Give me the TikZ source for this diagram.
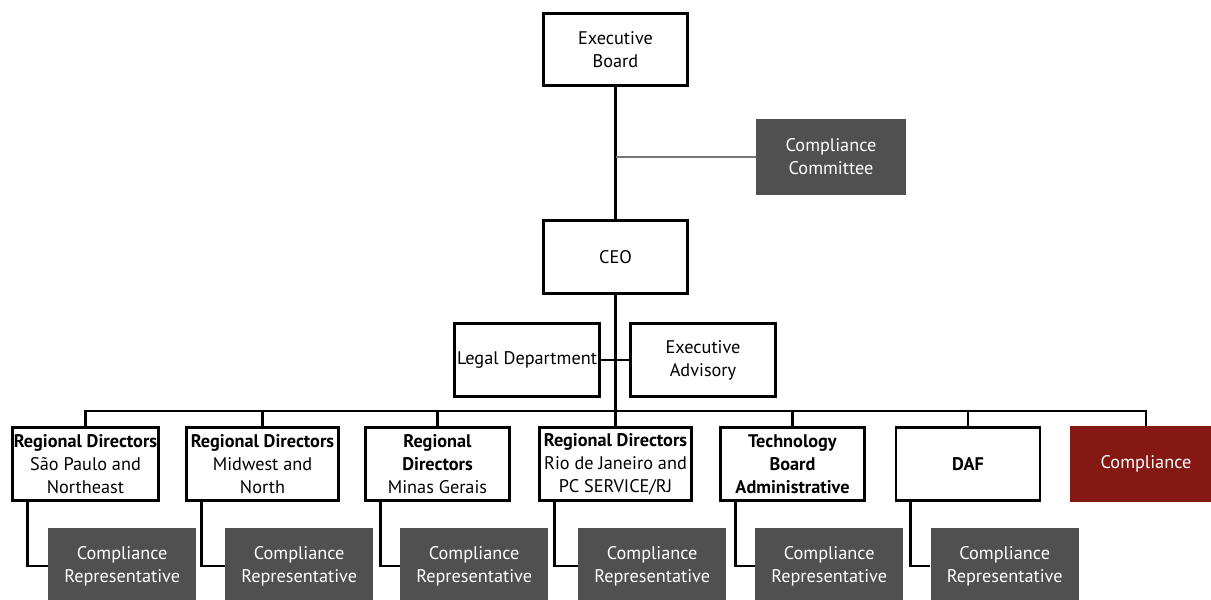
\documentclass[tikz,border=0pt]{standalone}
\usepackage{fontspec}
\setmainfont{PT Sans}
\usetikzlibrary{positioning}
\definecolor{repgray}{RGB}{80,80,80}
\definecolor{compred}{RGB}{134,24,19}
\definecolor{linkgray}{RGB}{120,120,120}

\tikzset{
  unitbox/.style={draw, line width=2.2pt, fill=white, align=center, inner sep=1pt,
    minimum height=54.5pt, font=\fontsize{13.7}{17.3}\selectfont},
  repbox/.style={fill=repgray, text=white, align=center, inner sep=1pt,
    minimum width=111pt, minimum height=57pt, font=\fontsize{13.7}{17.3}\selectfont},
  link/.style={line width=2.2pt}
}

\begin{document}
\begin{tikzpicture}[x=0.75pt, y=-0.75pt]
  \clip (0,0) rectangle (1211,600);
  \fill[white] (0,0) rectangle (1211,600);

  % top of the chart
  \node[unitbox, minimum width=108pt] (board) at (615.5,49.5) {Executive\\Board};
  \node[unitbox, minimum width=108pt] (ceo) at (615.5,257) {CEO};
  \node[repbox, minimum width=112pt] (committee) at (831,157) {Compliance\\Committee};
  \node[unitbox, minimum width=109pt] (legal) at (527,360) {Legal Department};
  \node[unitbox, minimum width=109pt] (advisory) at (703,360) {Executive\\Advisory};

  \draw[link] (board) -- (ceo);
  \draw[line width=1.6pt, linkgray] (committee.west) -- (committee.west -| board.south);
  \draw[link] (legal) -- (advisory);

  % directors
  \node[unitbox, minimum width=109.5pt] (r1) at (85.5,464) {\textbf{Regional Directors}\\São Paulo and\\Northeast};
  \node[unitbox, minimum width=114pt] (r2) at (262.5,464) {\textbf{Regional Directors}\\Midwest and\\North};
  \node[unitbox, minimum width=108pt] (r3) at (437.5,464) {\textbf{Regional}\\\textbf{Directors}\\Minas Gerais};
  \node[unitbox, minimum width=114pt] (r4) at (615.5,464) {\textbf{Regional Directors}\\Rio de Janeiro and\\PC SERVICE/RJ};
  \node[unitbox, minimum width=108pt] (r5) at (792.5,464) {\textbf{Technology}\\\textbf{Board}\\\textbf{Administrative}};
  \node[unitbox, minimum width=108pt] (r6) at (968,464) {\textbf{DAF}};
  \node[repbox, fill=compred, minimum width=114pt] (r7) at (1146,464) {Compliance};

  \coordinate (bus) at (615.5,411);
  \draw[link] (ceo.south) -- (bus);
  \draw[link] (r1.north) |- (bus) -| (r7.north);
  \foreach \n in {r2,r3,r4,r5,r6}
    \draw[link] (\n.north) -- (\n.north |- bus);

  % compliance representatives
  \foreach \n in {1,...,6} {
    \node[repbox] (c\n) at ([xshift=27.5pt,yshift=-76.5pt]r\n.center) {Compliance\\Representative};
    \draw[link] ([xshift=12pt]r\n.south west) |- (c\n.west);
  }
\end{tikzpicture}
\end{document}
